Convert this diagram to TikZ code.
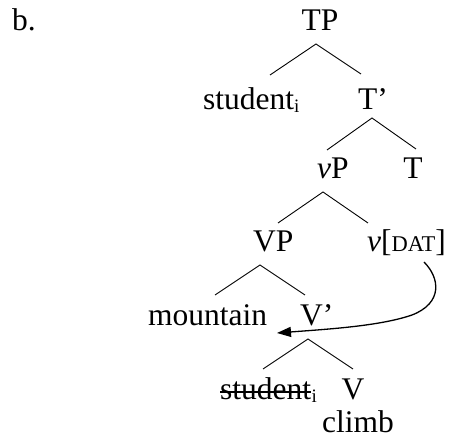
\documentclass[tikz,border=0pt]{standalone}
\usepackage{fontspec}
\setmainfont{Liberation Serif}
\usetikzlibrary{arrows.meta}
\newcommand{\subi}{\raisebox{-3pt}{\fontsize{19}{19}\selectfont i}}
\newcommand{\smc}[1]{{\fontsize{22.5}{24}\selectfont #1}}
\tikzset{
  lab/.style={inner sep=0pt, anchor=base, font=\fontsize{31.5}{36}\selectfont},
  labw/.style={lab, anchor=base west},
  branch/.style={line width=0.9pt},
  strike/.style={line width=1.1pt},
  movearrow/.style={line width=1.3pt, -{Triangle[length=14pt,width=10pt]}}
}
\begin{document}
\begin{tikzpicture}[x=1pt,y=-1pt]
\useasboundingbox (0,0) rectangle (451,438);
% labels
\node[labw] (lb) at (12,31) {b.};
\node[lab] (TP) at (320,31) {TP};
\node[labw] (stu) at (203,110) {student\subi};
\node[labw] (Tbar) at (358,110) {T’};
\node[labw] (vP) at (317,179) {\textit{v}P};
\node[lab] (T) at (413,179) {T};
\node[labw] (VP) at (253,252) {VP};
\node[labw] (vdat) at (367,252) {\textit{v}[\smc{DAT}]};
\node[labw] (mtn) at (148,326) {mountain};
\node[labw] (Vbar) at (300,326) {V’};
\node[labw] (stu2) at (220,400) {student};
\node[labw] (stu2i) at (stu2.base east) {\subi};
\node[lab] (V) at (353,400) {V};
\node[lab] (climb) at (358,433) {climb};
% strike-through
\draw[strike] ([yshift=8pt]stu2.base west) -- ([yshift=8pt]stu2.base east);
% branches
\coordinate (TPa) at (316,44); \coordinate (TPl) at (270,75); \coordinate (TPr) at (361,74);
\coordinate (Tba) at (372,118); \coordinate (Tbl) at (327,150); \coordinate (Tbr) at (416,149);
\coordinate (vPa) at (323,192); \coordinate (vPl) at (278,223); \coordinate (vPr) at (368,223);
\coordinate (VPa) at (260,265); \coordinate (VPl) at (215,295); \coordinate (VPr) at (305,295);
\coordinate (Vba) at (308,339); \coordinate (Vbl) at (263,369); \coordinate (Vbr) at (353,369);
\draw[branch] (TPl) -- (TPa) -- (TPr);
\draw[branch] (Tbl) -- (Tba) -- (Tbr);
\draw[branch] (vPl) -- (vPa) -- (vPr);
\draw[branch] (VPl) -- (VPa) -- (VPr);
\draw[branch] (Vbl) -- (Vba) -- (Vbr);
% movement arrow
\coordinate (as) at (424,262);
\coordinate (am) at (412,315);
\coordinate (ae) at (277,333);
\draw[movearrow] (as) .. controls (440,278) and (443,303) .. (am) .. controls (380,326) and (330,329) .. (ae);
\end{tikzpicture}
\end{document}
